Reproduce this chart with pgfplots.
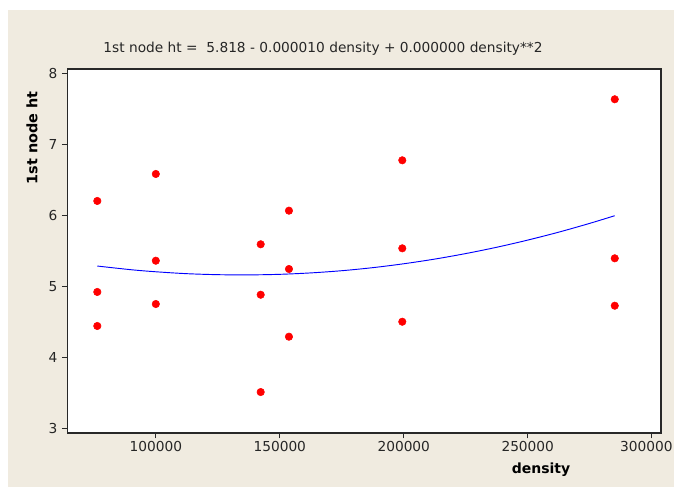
\documentclass[border=0pt]{standalone}
\usepackage{fontspec}
\setmainfont{DejaVu Sans}
\usepackage{pgfplots}
\pgfplotsset{compat=1.18}
\definecolor{bgbeige}{RGB}{240,235,224}
\definecolor{frame}{RGB}{40,40,40}
\begin{document}
\begin{tikzpicture}
\fill[white] (-50.475pt,-40.5pt) rectangle (455.025pt,324.75pt);
\useasboundingbox (-50.475pt,-40.5pt) rectangle (455.025pt,324.75pt);
\fill[bgbeige] (-44.475pt,-40.5pt) rectangle (455.025pt,317.25pt);
\begin{axis}[
  at={(0pt,0pt)}, anchor=origin,
  scale only axis,
  width=445.275pt, height=273pt,
  xmin=64300, xmax=303750,
  ymin=2.934, ymax=8.07,
  axis background/.style={fill=white},
  axis line style={frame, line width=0.9pt},
  tick align=outside,
  major tick length=4pt,
  tick style={frame, line width=0.8pt},
  xtick={100000,150000,200000,250000,300000},
  xticklabels={100000,150000,200000,250000,{\hspace*{-8pt}300000}},
  ytick={3,4,5,6,7,8},
  xtick pos=bottom, ytick pos=left,
  scaled x ticks=false,
  /pgf/number format/assume math mode=true,
  ticklabel style={font=\fontsize{10.3}{12}\selectfont, text=black!85},
  xticklabel style={yshift=1pt},
  clip=false,
]
\addplot[blue, line width=0.7pt, smooth] coordinates {
(76400,5.290)(90000,5.238)(100000,5.209)(112500,5.182)(125000,5.168)(137500,5.165)(150000,5.173)(162500,5.193)(175000,5.224)(187500,5.267)(200000,5.322)(212500,5.388)(225000,5.466)(237500,5.555)(250000,5.656)(262500,5.768)(275000,5.892)(285080,6.000)
};
\addplot[only marks, mark=*, mark size=2.8pt, mark options={fill=red, draw=red}] coordinates {
(76400,6.208)(76400,4.924)(76400,4.444)
(100000,6.589)(100000,5.365)(100000,4.754)
(142300,5.597)(142300,4.885)(142300,3.512)
(153700,6.071)(153700,5.248)(153700,4.293)
(199400,6.782)(199400,5.540)(199400,4.504)
(285100,7.643)(285100,5.399)(285100,4.730)
};
\end{axis}
\node[font=\fontsize{10.3}{12}\selectfont, text=black!85] at (191.8pt,288pt) {1st node ht =\ \ 5.818 - 0.000010 density + 0.000000 density**2};
\node[font=\bfseries\fontsize{10.8}{12}\selectfont, rotate=90] at (-26.5pt,221.25pt) {1st node ht};
\node[font=\bfseries\fontsize{10.5}{12}\selectfont] at (355.3pt,-27.75pt) {density};
\end{tikzpicture}
\end{document}
